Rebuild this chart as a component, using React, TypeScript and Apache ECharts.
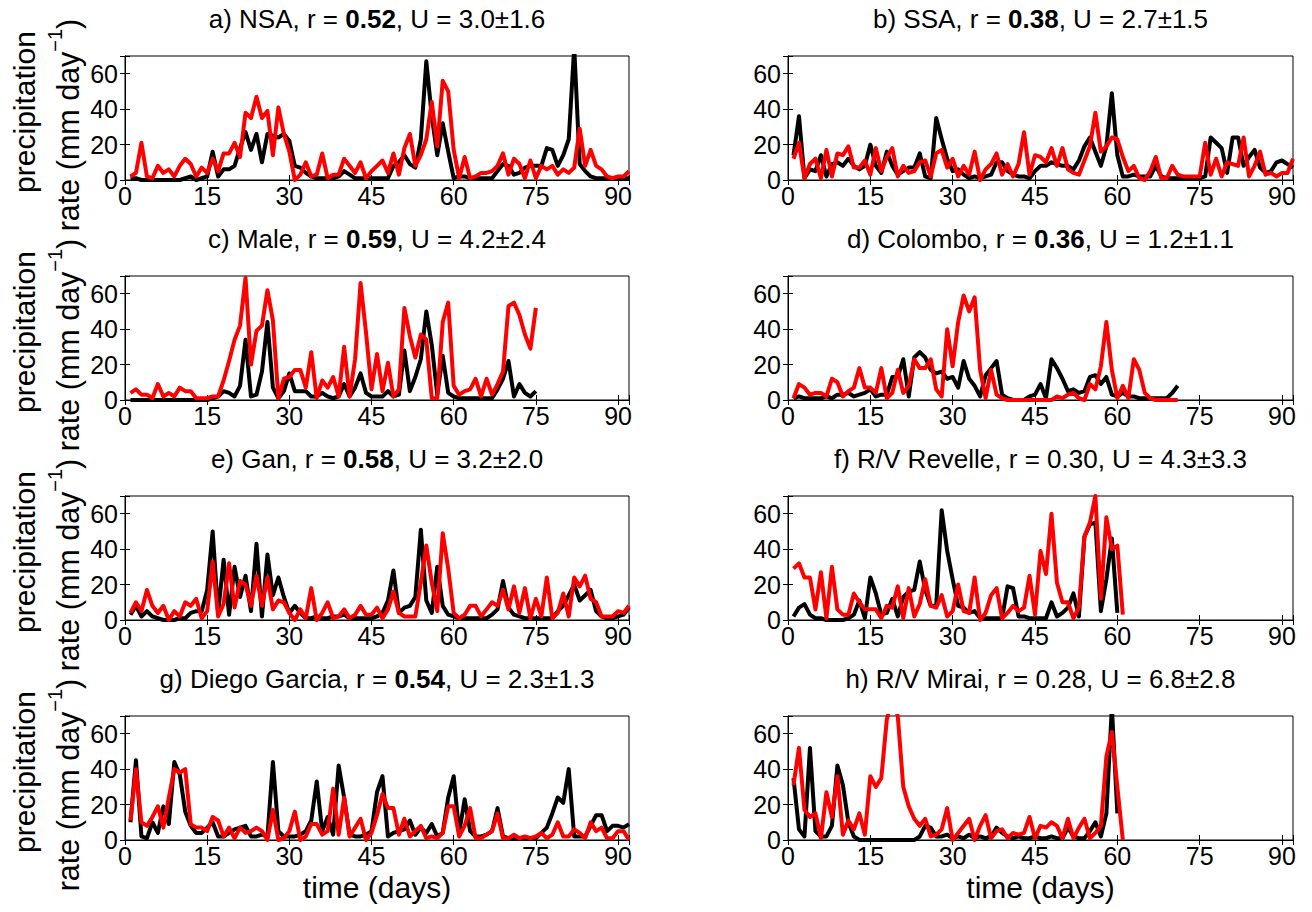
import React, { useEffect, useRef } from "react";
import * as echarts from "echarts";

// ---- data (daily precipitation rate, mm/day), day index starts at 1 ----
const nsaBlack = [1,1,0,0,0,0,0,0,0,0, 1,2,0,1,2,16,2,6,6,8, 18,27,17,26,10,26,25,24,26,22, 8,7,4,2,1,1,1,1,2,5, 3,1,1,1,1,1,1,1,8,10, 14,9,7,23,67,36,14,32,16,1, 2,2,1,1,1,1,1,5,9,8, 3,4,7,8,8,8,18,17,8,14, 23,75,9,5,2,1,1,1,1,1, 1,1];
const nsaRed = [2,4,21,2,1,8,4,6,2,8, 12,9,2,7,4,12,5,15,15,21, 13,38,35,47,35,39,14,41,26,16, 0,3,10,2,3,15,1,3,3,12, 8,4,10,1,5,8,11,4,15,3, 18,26,8,14,23,44,19,56,50,17, 1,13,1,2,4,4,5,8,15,3, 12,9,1,11,1,8,6,8,3,6, 4,7,29,8,17,8,6,2,1,2, 2,5];

const ssaBlack = [14,36,1,6,5,14,2,9,10,8, 12,8,6,8,20,8,4,16,8,3, 5,7,7,15,2,1,35,23,12,5, 6,3,1,2,1,2,3,10,10,5, 3,2,2,1,5,8,8,10,9,8, 8,6,11,19,24,16,8,19,49,14, 2,2,3,2,2,2,8,2,1,1, 1,1,1,1,1,2,24,21,18,4, 24,24,8,13,17,7,4,5,10,11, 9,7];
const ssaRed = [12,21,1,9,12,1,17,2,15,14, 19,7,7,11,3,18,5,13,18,2, 8,4,5,10,11,2,15,17,7,12, 2,8,3,16,0,6,9,15,3,9, 2,9,27,3,14,13,10,18,8,18, 6,4,3,11,19,38,16,19,24,23, 13,5,8,1,0,5,13,1,1,8, 3,2,2,2,2,21,3,12,2,10, 9,8,24,2,8,16,3,4,2,4, 4,12];

const maleBlack = [0,0,0,0,0,0,0,0,0,0, 0,0,0,0,0,1,2,5,4,2, 8,34,2,3,16,44,7,1,5,15, 5,5,5,2,2,4,2,1,2,9, 2,7,15,4,2,2,2,5,2,3, 28,5,13,23,50,31,3,25,4,2, 1,1,1,1,1,1,1,6,12,22, 2,9,4,2,5];
const maleRed = [4,6,3,3,1,9,2,4,2,7, 5,5,1,1,1,2,2,11,22,34, 42,69,20,39,42,62,45,1,12,13, 17,17,7,27,1,11,7,13,2,30, 2,23,66,38,6,26,5,21,2,6, 52,36,24,37,34,1,1,44,55,8, 3,5,6,12,2,12,3,9,16,53, 55,48,37,29,52];

const colomboBlack = [1,2,1,1,1,1,2,1,3,3, 4,2,3,4,6,2,3,3,13,13, 23,2,24,27,24,17,15,16,12,13, 7,22,12,8,2,14,18,22,3,1, 0,0,0,2,3,9,1,23,18,12, 5,6,4,5,13,14,9,13,3,2, 4,2,2,1,1,1,1,1,1,4, 8];
const colomboRed = [1,9,7,3,4,4,2,12,10,2, 5,7,18,7,7,4,18,1,4,17, 4,8,23,18,18,23,6,2,40,19, 44,59,50,58,17,1,17,3,1,0, 0,0,0,0,0,0,0,0,2,1, 3,4,1,0,9,6,19,44,17,1, 8,1,23,17,4,1,0,0,0,0, 0];

const ganBlack = [3,8,2,5,2,1,0,0,0,1, 1,4,5,5,17,50,4,34,3,30, 13,25,5,43,2,37,14,24,13,4, 8,4,1,1,2,1,1,2,2,3, 1,1,1,1,1,2,4,11,28,4, 7,8,13,51,11,4,30,8,3,2, 1,1,1,1,1,1,3,6,22,7, 3,2,1,1,1,1,1,1,5,8, 14,20,11,14,17,5,2,1,1,2, 3,7];
const ganRed = [4,10,5,17,8,4,8,0,5,2, 10,8,12,1,5,33,2,9,32,7, 22,20,8,25,8,24,6,11,10,4, 0,6,1,18,0,4,10,1,2,6, 1,3,8,3,3,7,1,6,16,4, 2,2,2,21,42,21,5,49,29,4, 1,3,8,8,2,6,10,8,17,6, 19,4,18,1,12,2,24,1,4,15, 2,24,19,25,12,10,2,2,2,5, 4,8];

const revelleBlack = [2,7,9,3,1,1,0,0,0,0, 1,3,11,1,24,15,3,4,12,2, 13,16,17,33,17,8,8,62,39,23, 8,7,4,5,1,1,1,1,1,19, 18,2,2,1,1,1,1,10,2,4, 7,15,2,47,54,55,5,23,46,4];
const revelleRed = [29,32,24,24,6,27,1,30,6,3, 3,15,10,6,6,6,1,8,7,19, 1,18,2,9,23,8,7,14,2,5, 20,5,4,24,0,4,14,18,1,4, 8,5,7,25,3,39,26,60,21,10, 10,1,7,47,55,70,12,58,40,42, 3];

const diegoBlack = [10,45,2,1,10,4,19,9,44,37, 16,8,4,4,7,10,2,2,4,6, 7,8,2,2,3,2,44,5,2,2, 2,3,5,11,33,5,13,3,42,24, 3,2,2,3,5,27,36,2,4,5, 6,11,3,7,4,9,2,4,24,36, 4,23,5,2,2,3,5,18,2,1, 1,1,1,1,1,4,7,15,24,21, 40,2,2,2,8,14,14,5,8,8, 7,9];
const diegoRed = [11,40,10,8,13,19,7,24,40,38, 40,9,7,7,5,13,11,2,7,1, 7,4,5,7,5,0,17,0,1,5, 16,0,2,9,9,3,5,29,3,24, 2,7,12,0,4,14,26,18,18,3, 12,2,5,8,1,2,1,4,19,19, 2,8,18,1,1,3,5,15,1,1, 3,1,2,1,2,4,1,3,10,2, 2,6,4,1,10,5,7,1,1,5, 5,0];

const miraiBlack = [35,6,2,52,5,2,2,8,42,31, 10,2,0,0,0,0,0,0,0,0, 0,0,0,2,8,7,2,2,3,1, 2,1,3,1,2,1,2,7,4,2, 1,2,1,1,2,1,1,2,1,1, 7,2,1,1,5,10,2,15,75,15];
const miraiRed = [31,52,17,13,15,1,27,13,36,3, 11,6,15,3,36,30,35,68,80,70, 30,19,12,8,12,2,3,6,18,0, 4,8,12,0,8,14,1,5,6,1, 4,3,4,13,1,8,7,10,8,1, 12,1,7,12,1,4,8,47,61,30, 0];

// ---- titles: prefix, r value (bold or not), suffix ----
const titlePrefix = ["a) NSA, r = ", "b) SSA, r = ", "c) Male, r = ", "d) Colombo, r = ", "e) Gan, r = ", "f) R/V Revelle, r = ", "g) Diego Garcia, r = ", "h) R/V Mirai, r = "];
const titleR = ["0.52", "0.38", "0.59", "0.36", "0.58", "0.30", "0.54", "0.28"];
const titleRBold = [true, true, true, true, true, false, true, false];
const titleSuffix = [", U = 3.0\u00b11.6", ", U = 2.7\u00b11.5", ", U = 4.2\u00b12.4", ", U = 1.2\u00b11.1", ", U = 3.2\u00b12.0", ", U = 4.3\u00b13.3", ", U = 2.3\u00b11.3", ", U = 6.8\u00b12.8"];

const blackSeries = [nsaBlack, ssaBlack, maleBlack, colomboBlack, ganBlack, revelleBlack, diegoBlack, miraiBlack];
const redSeries = [nsaRed, ssaRed, maleRed, colomboRed, ganRed, revelleRed, diegoRed, miraiRed];

const xTickLabels = [0, 15, 30, 45, 60, 75, 90];
const yTickLabels = [0, 20, 40, 60];
const X_MAX = 92;
const Y_MAX = 70;

const FONT = '"Liberation Sans", Arial, Helvetica, sans-serif';

// layout
const colLeft = [125, 788];
const colWidth = [504, 505];
const rowTop = [56, 276, 496, 716];
const plotH = 124;

export default function App() {
  const ref = useRef<HTMLDivElement>(null);

  useEffect(() => {
    if (!ref.current) return;
    const chart = echarts.init(ref.current, null, { renderer: "svg" });

    const grids: any[] = [];
    const xAxes: any[] = [];
    const yAxes: any[] = [];
    const series: any[] = [];
    const graphics: any[] = [];

    for (let i = 0; i < 8; i++) {
      const col = i % 2;
      const row = Math.floor(i / 2);
      const left = colLeft[col];
      const top = rowTop[row];
      const w = colWidth[col];
      grids.push({
        left, top, width: w, height: plotH,
        show: true, borderColor: "#000", borderWidth: 1, backgroundColor: "#fff",
        containLabel: false,
      });
      const tick = { show: true, inside: true, length: 5, lineStyle: { color: "#000", width: 1 } };
      const line = { show: true, lineStyle: { color: "#000", width: 1 } };
      xAxes.push({
        type: "value", gridIndex: i, min: 0, max: X_MAX, interval: 15, position: "bottom",
        axisLine: line, axisTick: tick, splitLine: { show: false },
        axisLabel: {
          show: true, fontSize: 25, color: "#000", fontFamily: FONT, margin: 3,
          formatter: (v: number) => (xTickLabels.includes(v) ? String(v) : ""),
        },
      });
      xAxes.push({
        type: "value", gridIndex: i, min: 0, max: X_MAX, interval: 15, position: "top",
        axisLine: line, axisTick: tick, splitLine: { show: false }, axisLabel: { show: false },
      });
      yAxes.push({
        type: "value", gridIndex: i, min: 0, max: Y_MAX, interval: 20, position: "left",
        axisLine: line, axisTick: tick, splitLine: { show: false },
        axisLabel: {
          show: true, fontSize: 25, color: "#000", fontFamily: FONT, margin: 7,
          formatter: (v: number) => (yTickLabels.includes(v) ? String(v) : ""),
        },
      });
      yAxes.push({
        type: "value", gridIndex: i, min: 0, max: Y_MAX, interval: 20, position: "right",
        axisLine: line, axisTick: tick, splitLine: { show: false }, axisLabel: { show: false },
      });

      series.push({
        type: "line", name: "black" + i, xAxisIndex: 2 * i, yAxisIndex: 2 * i,
        data: blackSeries[i].map((v, k) => [k + 1, v]),
        showSymbol: false, symbol: "none", clip: true, z: 2,
        lineStyle: { color: "#000000", width: 4, join: "round" },
      });
      series.push({
        type: "line", name: "red" + i, xAxisIndex: 2 * i, yAxisIndex: 2 * i,
        data: redSeries[i].map((v, k) => [k + 1, v]),
        showSymbol: false, symbol: "none", clip: true, z: 3,
        lineStyle: { color: "#ff0000", width: 4, join: "round" },
      });

      // title
      graphics.push({
        type: "text",
        x: left + w / 2,
        y: top - 37,
        style: {
          text: "{n|" + titlePrefix[i] + "}{" + (titleRBold[i] ? "b" : "n") + "|" + titleR[i] + "}{n|" + titleSuffix[i] + "}",
          align: "center",
          verticalAlign: "middle",
          rich: {
            n: { fontSize: 26, fontFamily: FONT, fill: "#000" },
            b: { fontSize: 26, fontFamily: FONT, fontWeight: "bold", fill: "#000" },
          },
        },
      });

      // y label on left column (two lines, rotated)
      if (col === 0) {
        const cy = top + plotH / 2;
        graphics.push({
          type: "text", x: 24, y: cy - 6, rotation: Math.PI / 2,
          style: { text: "precipitation", fontSize: 30, fontFamily: FONT, fill: "#000", align: "center", verticalAlign: "middle" },
        });
        graphics.push({
          type: "text", x: 64, y: cy + 7, rotation: Math.PI / 2,
          style: {
            text: "{n|rate (mm day}{s|\u22121}{n|)}",
            align: "center", verticalAlign: "middle",
            rich: {
              n: { fontSize: 30.5, fontFamily: FONT, fill: "#000", lineHeight: 38, verticalAlign: "bottom" },
              s: { fontSize: 20, fontFamily: FONT, fill: "#000", lineHeight: 38, verticalAlign: "top" },
            },
          },
        });
      }
      if (row === 3) {
        graphics.push({
          type: "text", x: left + w / 2, y: 887,
          style: { text: "time (days)", fontSize: 30, fontFamily: FONT, fill: "#000", align: "center", verticalAlign: "middle" },
        });
      }
    }

    chart.setOption({
      animation: false,
      backgroundColor: "#fff",
      grid: grids,
      xAxis: xAxes,
      yAxis: yAxes,
      series,
      graphic: graphics,
    });

    return () => chart.dispose();
  }, []);

  return (
    <div
      ref={ref}
      style={{ position: "fixed", left: 0, top: 0, width: 1312, height: 912, background: "#fff" }}
    />
  );
}
